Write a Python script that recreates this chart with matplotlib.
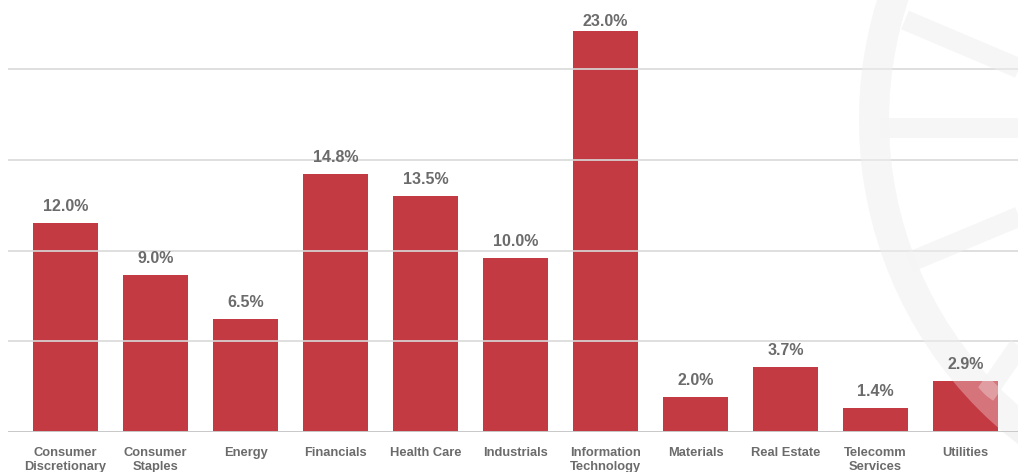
import numpy as np
import matplotlib
matplotlib.use("Agg")
import matplotlib.pyplot as plt
from matplotlib.patches import Circle
from matplotlib.lines import Line2D

categories = ["Consumer\nDiscretionary", "Consumer\nStaples", "Energy", "Financials",
              "Health Care", "Industrials", "Information\nTechnology", "Materials",
              "Real Estate", "Telecomm\nServices", "Utilities"]
values = [12.0, 9.0, 6.5, 14.8, 13.5, 10.0, 23.0, 2.0, 3.7, 1.4, 2.9]
value_labels = ["12.0%", "9.0%", "6.5%", "14.8%", "13.5%", "10.0%", "23.0%",
                "2.0%", "3.7%", "1.4%", "2.9%"]
grid_levels = [5.2, 10.4, 15.6, 20.8]

plt.rcParams['font.family'] = ['Liberation Sans', 'DejaVu Sans']

W, H = 1018, 472
fig = plt.figure(figsize=(W / 100, H / 100), dpi=100)

# pixel-coordinate helper axes for the watermark logo
lg = fig.add_axes([0, 0, 1, 1], zorder=0)
lg.set_xlim(0, W)
lg.set_ylim(H, 0)
lg.axis("off")
lg.patch.set_alpha(0)


def draw_logo(target, color, alpha, z):
    cx, cy, r = 1269, 120, 395
    c = Circle((cx, cy), r, fill=False, lw=30 * 0.72, edgecolor=color, alpha=alpha,
               transform=lg.transData, zorder=z)
    target.add_artist(c)
    clip = Circle((cx, cy), r, transform=lg.transData)
    for (x0, y0, x1, y1) in [(880, 128, 1030, 128), (905, 20, 1030, 73),
                             (910, 262, 1030, 212), (985, 395, 1030, 330)]:
        ln = Line2D([x0, x1], [y0, y1], color=color, lw=20 * 0.72, alpha=alpha,
                    solid_capstyle="butt", transform=lg.transData, zorder=z)
        target.add_artist(ln)
        ln.set_clip_path(clip)


draw_logo(lg, "#E6E6E6", 0.45, 1)

ax = fig.add_axes([8 / W, 40 / H, 1 - 8 / W, 432 / H], zorder=1)
ax.patch.set_alpha(0)

bar_color = "#C33A43"
text_color = "#6B6B6B"
x = np.arange(len(categories))
bars = ax.bar(x, values, width=0.72, color=bar_color, zorder=2)

ymax = 24.76
ax.set_xlim(-0.639, 10.583)
ax.set_ylim(0, ymax)
px_per_unit = 432 / ymax

for lvl in grid_levels:
    ax.axhline(lvl, color="#D9D9D9", lw=1.2, zorder=3)
ax.axhline(0, color="#C8C8C8", lw=1.4, zorder=4)

# light overlay of the watermark on the bars (below the texts)
draw_logo(ax, "#FFFFFF", 0.3, 3.5)

gap = 12 / px_per_unit
top_limit = ymax - 26 / px_per_unit
for b, lab in zip(bars, value_labels):
    ytxt = min(b.get_height() + gap, top_limit)
    ax.text(b.get_x() + b.get_width() / 2, ytxt, lab,
            ha="center", va="baseline", fontsize=11.5, fontweight="bold",
            color=text_color, zorder=5)

ax.set_xticks(x)
ax.set_xticklabels(categories, fontsize=9.3, fontweight="bold", color=text_color,
                   linespacing=1.2)
ax.tick_params(axis="x", length=0, pad=11)
ax.set_yticks([])
for s in ax.spines.values():
    s.set_visible(False)

fig.savefig("out.png", dpi=100)
